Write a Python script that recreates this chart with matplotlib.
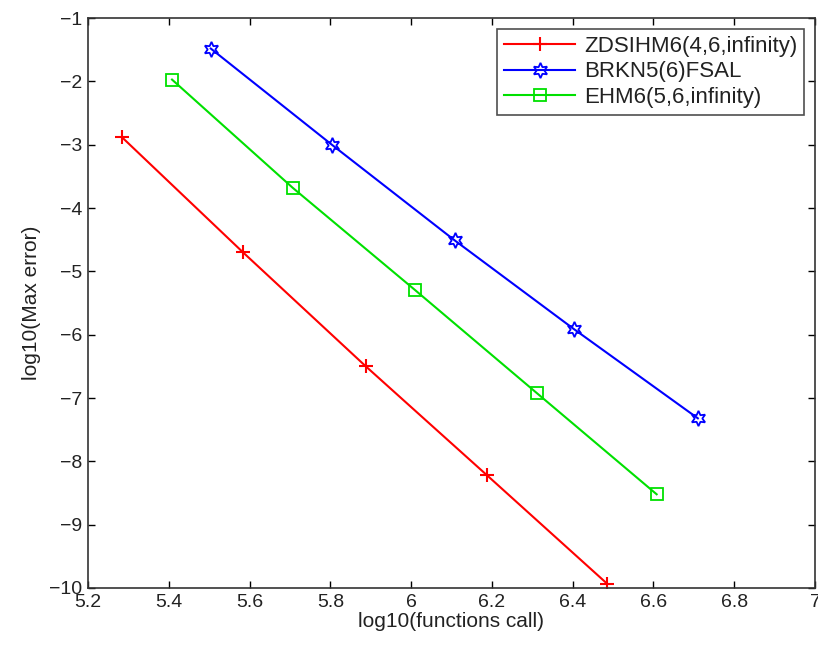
import matplotlib
matplotlib.use("Agg")
import matplotlib.pyplot as plt

plt.rcParams["font.family"] = ["Liberation Sans", "DejaVu Sans"]

# log10(functions call) vs log10(Max error)
zdsihm_x = [5.284, 5.584, 5.888, 6.188, 6.485]
zdsihm_y = [-2.88, -4.70, -6.50, -8.22, -9.93]

brkn_x = [5.504, 5.804, 6.108, 6.403, 6.710]
brkn_y = [-1.48, -3.00, -4.51, -5.91, -7.32]

ehm_x = [5.408, 5.707, 6.009, 6.311, 6.608]
ehm_y = [-1.97, -3.68, -5.29, -6.92, -8.52]

labels = ["ZDSIHM6(4,6,infinity)", "BRKN5(6)FSAL", "EHM6(5,6,infinity)"]

fig = plt.figure(figsize=(8.18, 6.49), dpi=100)
ax = fig.add_axes([0.1076, 0.094, 0.8887, 0.878])

ax.plot(zdsihm_x, zdsihm_y, color="red", lw=1.5, marker="+", ms=10, mew=1.5,
        label=labels[0])
ax.plot(brkn_x, brkn_y, color="blue", lw=1.5, marker=(6, 1, 0), ms=11, mew=1.3,
        fillstyle="none", label=labels[1])
ax.plot(ehm_x, ehm_y, color="#00e000", lw=1.5, marker="s", ms=8, mew=1.3,
        fillstyle="none", label=labels[2])

ax.set_xlim(5.2, 7)
ax.set_ylim(-10, -1)
ax.set_xticks([5.2, 5.4, 5.6, 5.8, 6, 6.2, 6.4, 6.6, 6.8, 7])
ax.set_xticklabels(["5.2", "5.4", "5.6", "5.8", "6", "6.2", "6.4", "6.6", "6.8", "7"])
ax.set_yticks(range(-10, 0))
ax.set_yticklabels(["\u221210", "\u22129", "\u22128", "\u22127", "\u22126",
                    "\u22125", "\u22124", "\u22123", "\u22122", "\u22121"])
ax.tick_params(direction="in", top=True, right=True, labelsize=14, length=5,
               width=1, pad=4, labelcolor="#222222")
for s in ax.spines.values():
    s.set_linewidth(1.2)
    s.set_color("#333333")

ax.set_xlabel("log10(functions call)", fontsize=15, labelpad=1, color="#222222")
ax.set_ylabel("log10(Max error)", fontsize=15, labelpad=6, color="#222222")

leg = ax.legend(loc="upper right", fontsize=16, handlelength=3.2,
                handletextpad=0.4, fancybox=False, edgecolor="#222222",
                borderpad=0.3, labelspacing=0.2, borderaxespad=0.5)
leg.get_frame().set_linewidth(1.2)
for t in leg.get_texts():
    t.set_color("#222222")

fig.savefig("out.png", dpi=100)
